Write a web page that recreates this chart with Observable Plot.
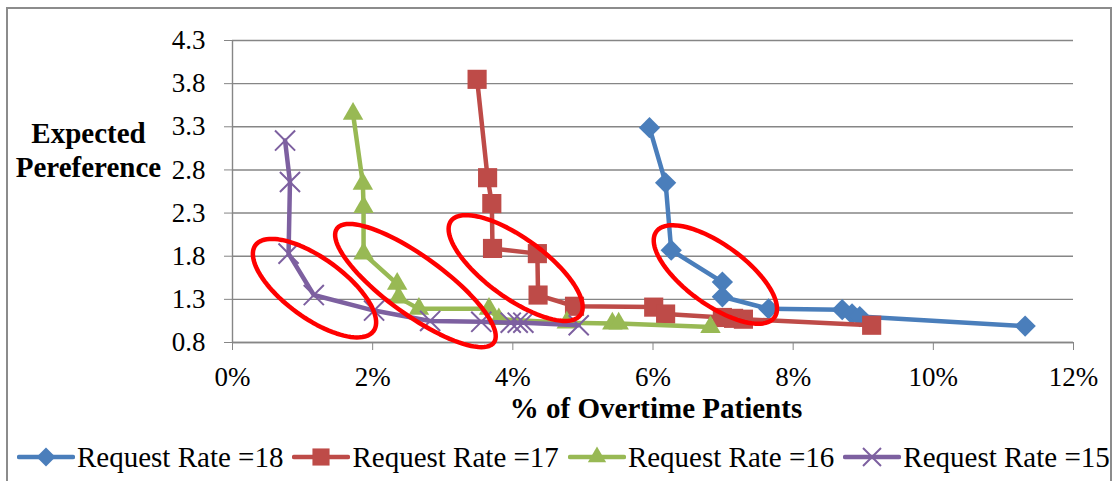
<!DOCTYPE html>
<html><head><meta charset="utf-8">
<script src="https://cdn.jsdelivr.net/npm/d3@7"></script>
<script src="https://cdn.jsdelivr.net/npm/@observablehq/plot@0.6"></script>
<style>
body{margin:0;background:#fff;}
#wrap{position:relative;width:1117px;height:481px;overflow:hidden;background:#fff;font-family:"Liberation Serif","Times New Roman",serif;}
#frame{position:absolute;left:6px;top:7px;width:1106px;height:500px;border:2px solid #8c8c8c;box-sizing:border-box;}
#chart{position:absolute;left:0;top:0;}
#legend{position:absolute;left:17px;top:441px;display:flex;align-items:center;font-size:29px;line-height:32px;color:#000;white-space:nowrap;}
.item{display:flex;align-items:center;margin-right:9px;}
.item svg{margin-right:2px;}
</style></head><body>
<div id="wrap"><div id="frame"></div><div id="chart"></div><div id="legend"></div></div>
<script>
// ---- data (x in %, y = expected preference) ----
const seriesNames = ["Request Rate =18", "Request Rate =17", "Request Rate =16", "Request Rate =15"];
const rate18X = [5.95, 6.18, 6.26, 6.99, 6.99, 7.65, 8.70, 8.84, 8.95, 11.31];
const rate18Y = [3.29, 2.65, 1.87, 1.50, 1.33, 1.19, 1.18, 1.13, 1.10, 0.99];
const rate17X = [3.49, 3.64, 3.70, 3.71, 4.35, 4.36, 4.88, 6.01, 6.18, 6.99, 7.15, 7.29, 9.12];
const rate17Y = [3.85, 2.71, 2.41, 1.89, 1.83, 1.35, 1.22, 1.21, 1.13, 1.09, 1.08, 1.07, 1.00];
const rate16X = [1.72, 1.86, 1.87, 1.87, 2.35, 2.37, 2.66, 3.66, 3.80, 4.77, 5.42, 5.51, 6.82];
const rate16Y = [3.45, 2.64, 2.37, 1.83, 1.48, 1.32, 1.19, 1.19, 1.07, 1.03, 1.02, 1.02, 0.98];
const rate15X = [0.75, 0.82, 0.80, 1.16, 2.02, 2.82, 3.55, 3.97, 4.07, 4.15, 4.94];
const rate15Y = [3.14, 2.66, 1.83, 1.35, 1.17, 1.05, 1.04, 1.03, 1.03, 1.03, 1.00];
const xTicks = [0, 2, 4, 6, 8, 10, 12];
const yTicks = [0.8, 1.3, 1.8, 2.3, 2.8, 3.3, 3.8, 4.3];
const xTitle = "% of Overtime Patients";
const yTitle = "Expected\nPereference";
// highlight ellipses (data units): centre, half major axis vector, half minor axis vector
const ellipseCX = [1.17, 2.61, 4.04, 6.89];
const ellipseCY = [1.43, 1.46, 1.663, 1.588];
const ellipseMajor = [[0.843, -0.497], [1.12, -0.66], [0.923, -0.545], [0.843, -0.497]];
const ellipseMinor = [[-0.251, -0.281], [-0.243, -0.272], [-0.251, -0.281], [-0.251, -0.281]];

// ---- styles ----
const colors = ["#4A7EBB", "#BE4B48", "#98B954", "#7D60A0"];
const symbols = ["diamond2", "square", "triangle", "times"];
const radii = [9.6, 10.8, 7.6, 9.2];
const gridColor = "#868686";

const xs = [rate18X, rate17X, rate16X, rate15X];
const ys = [rate18Y, rate17Y, rate16Y, rate15Y];
const tables = xs.map((X, i) => X.map((x, j) => ({x, y: ys[i][j]})));

const ellipsePts = [];
ellipseCX.forEach((cx, k) => {
  const N = 96;
  for (let i = 0; i <= N; i++) {
    const t = 2 * Math.PI * i / N;
    ellipsePts.push({
      k,
      x: cx + ellipseMajor[k][0] * Math.cos(t) + ellipseMinor[k][0] * Math.sin(t),
      y: ellipseCY[k] + ellipseMajor[k][1] * Math.cos(t) + ellipseMinor[k][1] * Math.sin(t)
    });
  }
});

const seriesMarks = [];
tables.forEach((tbl, i) => {
  seriesMarks.push(Plot.line(tbl, {x: "x", y: "y", stroke: colors[i], strokeWidth: 4.5, strokeLinejoin: "round", strokeLinecap: "round"}));
  if (symbols[i] === "times") {
    seriesMarks.push(Plot.dot(tbl, {x: "x", y: "y", symbol: "times", r: radii[i], stroke: colors[i], strokeWidth: 2, fill: "none"}));
  } else {
    seriesMarks.push(Plot.dot(tbl, {x: "x", y: "y", symbol: symbols[i], r: radii[i], fill: colors[i], stroke: "none"}));
  }
});

const chart = Plot.plot({
  width: 1117,
  height: 430,
  marginLeft: 232,
  marginRight: 44,
  marginTop: 40,
  marginBottom: 88,
  style: {fontFamily: "'Liberation Serif','Times New Roman',serif", fontSize: "27px", color: "#000", background: "transparent", overflow: "visible"},
  x: {domain: [0, 12], ticks: xTicks, tickFormat: d => d + "%"},
  y: {domain: [0.8, 4.3], ticks: yTicks, tickFormat: d3.format(".1f")},
  marks: [
    Plot.gridY(yTicks, {stroke: gridColor, strokeOpacity: 1, strokeWidth: 1.4}),
    Plot.ruleX([0], {stroke: gridColor, strokeWidth: 1.4}),
    Plot.ruleY([0.8], {stroke: gridColor, strokeWidth: 1.4}),
    Plot.axisY(yTicks, {tickSize: 8, tickPadding: 19, stroke: gridColor, fill: "#000", fontSize: 27, label: null, tickFormat: d3.format(".1f")}),
    Plot.axisX(xTicks, {tickSize: 8, tickPadding: 16, stroke: gridColor, fill: "#000", fontSize: 27, label: null, tickFormat: d => d + "%"}),
    ...seriesMarks,
    Plot.line(ellipsePts, {x: "x", y: "y", z: "k", stroke: "#FF0000", strokeWidth: 4.5, curve: "linear"}),
    Plot.text([xTitle], {text: d => d, frameAnchor: "bottom", dx: 3, dy: 75, fontWeight: "bold", fontSize: 29, fill: "#000"}),
    Plot.text([yTitle], {text: d => d, frameAnchor: "top-left", dx: -144, dy: 78, textAnchor: "middle", lineHeight: 1.17, fontWeight: "bold", fontSize: 29, fill: "#000"})
  ]
});
document.getElementById("chart").appendChild(chart);

// ---- legend ----
const legend = document.getElementById("legend");
seriesNames.forEach((name, i) => {
  const item = document.createElement("div");
  item.className = "item";
  const size = Math.PI * radii[i] * radii[i] * 0.8;
  const symMap = {diamond2: d3.symbolDiamond2, square: d3.symbolSquare, triangle: d3.symbolTriangle, times: d3.symbolTimes};
  const path = d3.symbol(symMap[symbols[i]], size)();
  const markerAttrs = symbols[i] === "times"
    ? `fill="none" stroke="${colors[i]}" stroke-width="2"`
    : `fill="${colors[i]}"`;
  item.innerHTML = `<svg width="58" height="32"><line x1="2" x2="56" y1="16" y2="16" stroke="${colors[i]}" stroke-width="4.5" stroke-linecap="round"/><path transform="translate(29,16)" d="${path}" ${markerAttrs}/></svg><span>${name}</span>`;
  legend.appendChild(item);
});
</script>
</body></html>
